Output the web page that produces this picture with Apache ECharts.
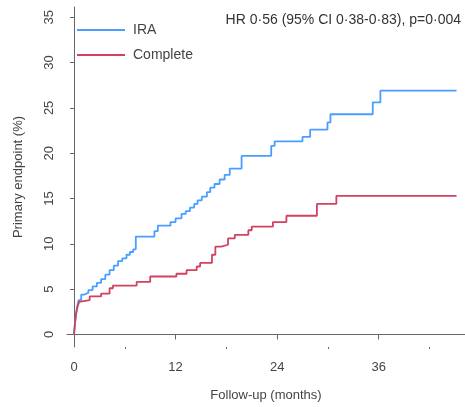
<!DOCTYPE html>
<html>
<head>
<meta charset="utf-8">
<script src="https://cdn.jsdelivr.net/npm/echarts@6/dist/echarts.min.js"></script>
<style>html,body{margin:0;padding:0;background:#fff}#c{width:465px;height:407px}</style>
</head>
<body>
<div id="c"></div>
<script>
var FONT = '"Liberation Sans Narrow", "Liberation Sans", Arial, sans-serif';
var seriesNames = ['IRA', 'Complete'];
var xTickLabels = [0, 12, 24, 36];
var xMinorTicks = [6, 18, 30, 42];
var yTickLabels = [0, 5, 10, 15, 20, 25, 30, 35];
var annotation = 'HR 0\u00B756 (95% CI 0\u00B738-0\u00B783), p=0\u00B7004';
var xAxisName = 'Follow-up (months)';
var yAxisName = 'Primary endpoint (%)';

var iraData = [[0,0],[0.1,1.0],[0.2,2.0],[0.35,3.0],[0.55,3.8],[0.85,4.4],[1.2,4.6],[1.7,4.9],[2.2,5.3],[2.7,5.7],[3.2,6.1],[3.7,6.6],[4.2,7.1],[4.7,7.6],[5.2,8.1],[5.7,8.4],[6.2,8.8],[6.6,9.1],[7.0,9.4],[7.3,10.8],[9.5,11.4],[9.9,12.0],[11.4,12.4],[12.0,12.8],[12.7,13.3],[13.2,13.6],[13.7,14.0],[14.2,14.4],[14.6,14.8],[15.1,15.2],[15.7,15.7],[16.1,16.2],[16.6,16.6],[17.2,17.1],[17.8,17.6],[18.4,18.3],[19.8,19.7],[23.3,20.8],[23.7,21.3],[27.0,21.8],[27.9,22.6],[29.95,23.4],[30.3,24.3],[35.3,25.6],[36.2,26.9],[45.2,26.9]];
var completeData = [[0,0],[0.1,1.2],[0.25,2.3],[0.4,3.0],[0.6,3.6],[0.8,3.8],[1.85,4.2],[3.2,4.5],[4.2,5.1],[4.6,5.4],[7.4,5.8],[9.0,6.4],[12.1,6.7],[13.3,7.1],[14.5,7.5],[14.9,7.9],[16.3,8.8],[16.7,9.7],[17.4,9.9],[18.2,10.6],[19.0,11.0],[20.6,11.5],[21.0,11.9],[23.5,12.4],[25.1,13.1],[28.7,14.4],[31.0,15.3],[45.2,15.3]];

var chart = echarts.init(document.getElementById('c'), null, {renderer: 'canvas'});
var axisColor = '#666';
var labelColor = '#444';
chart.setOption({
  animation: false,
  textStyle: {fontFamily: FONT},
  title: {
    text: annotation, right: 4, top: 13, padding: 0,
    textStyle: {fontFamily: FONT, fontSize: 14, fontWeight: 'normal', color: '#333'}
  },
  legend: {
    orient: 'vertical', left: 77, top: 23, padding: 0, itemWidth: 48, itemHeight: 2, itemGap: 11,
    icon: 'rect',
    textStyle: {fontFamily: FONT, fontSize: 14, color: '#444', padding: [0, 0, 0, 3]},
    data: seriesNames
  },
  grid: {left: 67, right: 0, top: 7, bottom: 55},
  xAxis: [{
    type: 'value', min: -0.83, max: 46.2,
    name: xAxisName, nameLocation: 'middle', nameGap: 42,
    nameTextStyle: {fontFamily: FONT, fontSize: 13, color: '#444'},
    axisLine: {show: true, lineStyle: {color: axisColor, width: 1}},
    axisTick: {show: true, length: 5, customValues: xTickLabels, lineStyle: {color: axisColor}},
    axisLabel: {customValues: xTickLabels, margin: 14, fontSize: 13, color: labelColor, fontFamily: FONT},
    splitLine: {show: false}
  }, {
    type: 'value', min: -0.83, max: 46.2, position: 'bottom', gridIndex: 0,
    axisLine: {show: false},
    axisTick: {show: true, length: 2, customValues: xMinorTicks, lineStyle: {color: axisColor}},
    axisLabel: {show: false},
    splitLine: {show: false}
  }],
  yAxis: {
    type: 'value', min: -1.38, max: 36.13,
    name: yAxisName, nameLocation: 'middle', nameGap: 42,
    nameTextStyle: {fontFamily: FONT, fontSize: 13, color: '#444'},
    axisLine: {show: true, lineStyle: {color: axisColor, width: 1}},
    axisTick: {show: true, length: 4, customValues: yTickLabels, lineStyle: {color: axisColor}},
    axisLabel: {customValues: yTickLabels, rotate: 90, margin: 11, fontSize: 13, color: labelColor, fontFamily: FONT},
    splitLine: {show: false}
  },
  series: [{
    name: seriesNames[0], type: 'line', step: 'end', data: iraData,
    showSymbol: false, symbol: 'none',
    itemStyle: {color: '#4a9eff'},
    lineStyle: {color: '#4a9eff', width: 1.8}
  }, {
    name: seriesNames[1], type: 'line', step: 'end', data: completeData,
    showSymbol: false, symbol: 'none',
    itemStyle: {color: '#d2425f'},
    lineStyle: {color: '#d2425f', width: 1.8}
  }]
});
</script>
</body>
</html>
